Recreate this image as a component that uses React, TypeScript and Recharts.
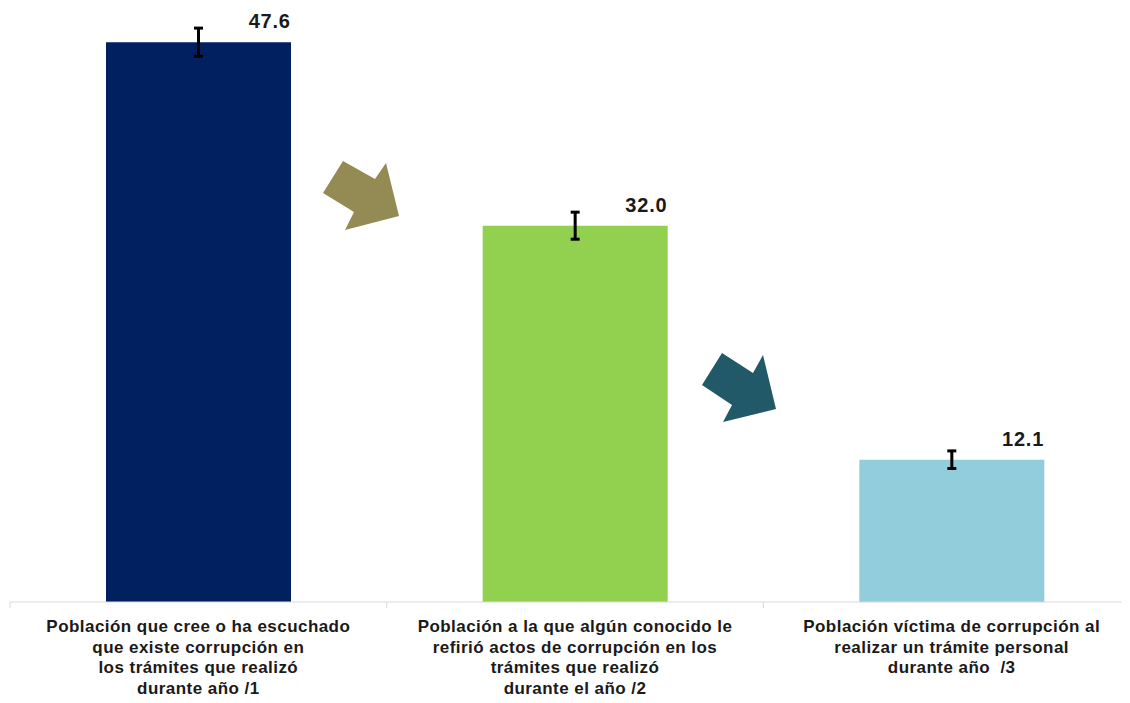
import React from 'react';
import { BarChart, Bar, XAxis, YAxis, Cell, ErrorBar, LabelList } from 'recharts';

const categories = ['cree', 'refirio', 'victima'];
const labelLines = [
  ['Población que cree o ha escuchado', 'que existe corrupción en', 'los trámites que realizó', 'durante año /1'],
  ['Población a la que algún conocido le', 'refirió actos de corrupción en los', 'trámites que realizó', 'durante el año /2'],
  ['Población víctima de corrupción al', 'realizar un trámite personal', 'durante año\u00a0 /3'],
];
const values = [47.6, 32.0, 12.1];
const errors = [1.2, 1.15, 0.75];
const barColors = ['#002060', '#92d050', '#92cddc'];

const data = categories.map((c, i) => ({ name: c, value: values[i], err: errors[i] }));

const FONT = '"Liberation Sans", Arial, sans-serif';

const CategoryTick = (props: any) => {
  const { x, y, index } = props;
  const lines = labelLines[index] || [];
  const half = 188.3;
  return (
    <g>
      <line x1={x - half} y1={y - 8} x2={x - half} y2={y - 2} stroke="#d9d9d9" strokeWidth={1} />
      <text x={x} y={y + 22} textAnchor="middle" fontFamily={FONT} fontWeight="bold" fontSize={17} letterSpacing={0.45} fill="#1a1a1a">
        {lines.map((l, i) => (
          <tspan key={i} x={x} dy={i === 0 ? 0 : 20.5}>{l}</tspan>
        ))}
      </text>
    </g>
  );
};

const ValueLabel = (props: any) => {
  const { x, y, width, value } = props;
  return (
    <text x={x + width * 0.885} y={y - 14} textAnchor="middle" fontFamily={FONT} fontWeight="bold" fontSize={20} letterSpacing={0.8} fill="#1a1a1a">
      {Number(value).toFixed(1)}
    </text>
  );
};

export default function App() {
  return (
    <div style={{ position: 'relative', margin: -8, width: 1130, height: 703, overflow: 'hidden', background: '#fff' }}>
      <BarChart width={1140} height={703} data={data} margin={{ top: 14, right: 0, left: 10, bottom: 0 }}>
        <YAxis hide domain={[0, 50]} />
        <XAxis
          dataKey="name"
          axisLine={{ stroke: '#d9d9d9' }}
          tickLine={false}
          height={101}
          interval={0}
          tick={<CategoryTick />}
        />
        <Bar dataKey="value" barSize={185} isAnimationActive={false}>
          {data.map((d, i) => (
            <Cell key={d.name} fill={barColors[i]} />
          ))}
          <ErrorBar dataKey="err" width={4.5} stroke="#000" strokeWidth={3} />
          <LabelList dataKey="value" content={<ValueLabel />} />
        </Bar>
      </BarChart>
      <svg width={1130} height={703} style={{ position: 'absolute', left: 0, top: 0, pointerEvents: 'none' }}>
        <polygon points="343,161 375,179 386,163 399,216 345,230 354,212 323,193" fill="#948a54" />
        <polygon points="722,353 753,373 763,355 776,409 723,422 732,405 702,385" fill="#215968" />
      </svg>
    </div>
  );
}
